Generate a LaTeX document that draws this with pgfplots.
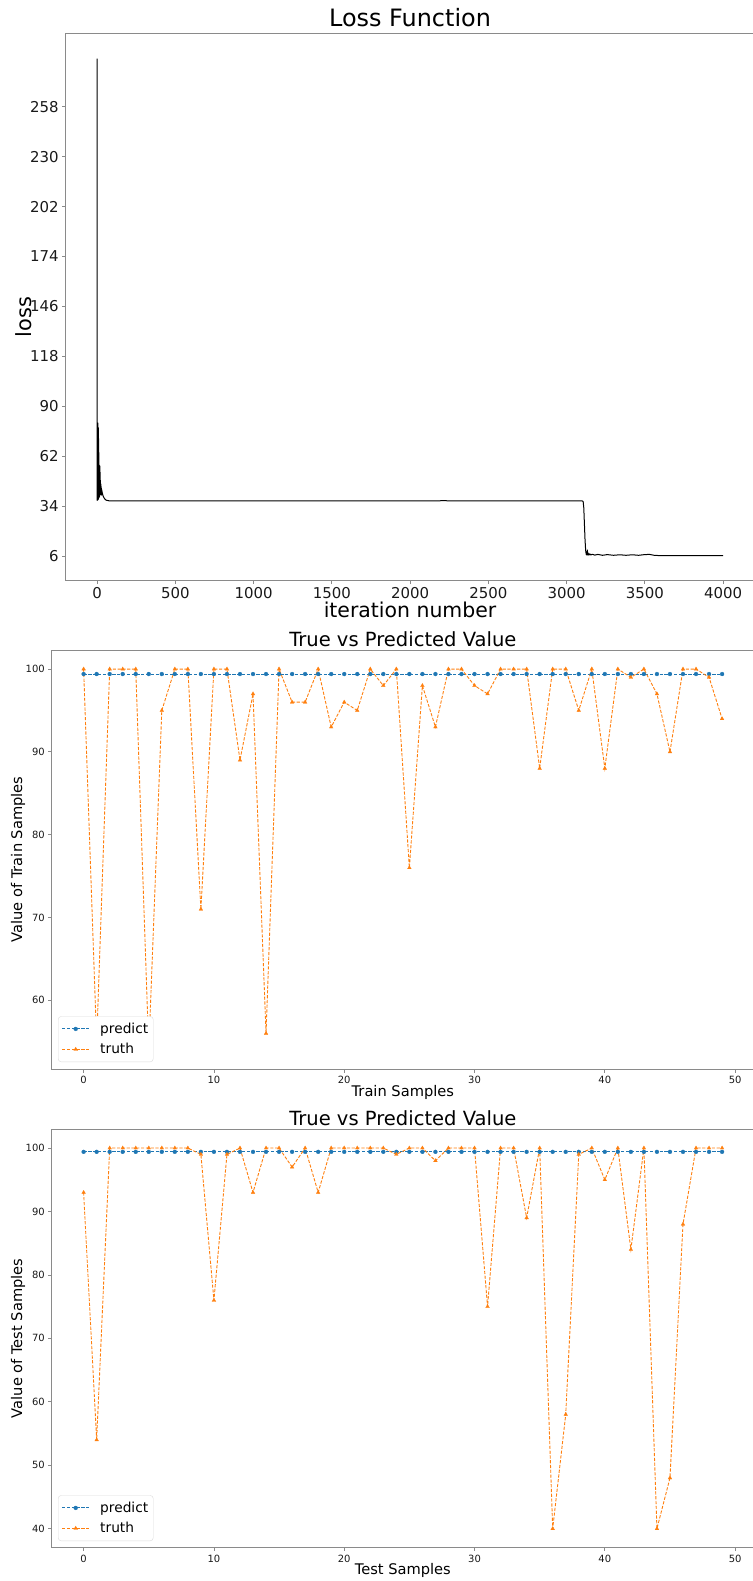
\documentclass[border=0pt]{standalone}
\usepackage{pgfplots}
\pgfplotsset{compat=1.18}
\usepackage{fontspec}
\setmainfont{DejaVu Sans}

\definecolor{mplblue}{HTML}{1F77B4}
\definecolor{mplorange}{HTML}{FF7F0E}
\definecolor{spine}{HTML}{8A8A8A}

% training loss per iteration
\pgfplotstableread{
it loss
0 285.0
1 37.2
2 38.0
3 37.4
4 52.0
5 70.0
6 80.6
7 37.6
8 78.0
9 38.0
10 72.0
11 38.4
12 64.0
13 38.8
14 57.0
15 39.2
16 49.0
17 39.6
18 56.5
19 40.0
20 53.0
21 40.4
22 48.5
23 40.6
24 46.5
25 40.6
26 45.0
27 40.4
28 44.0
29 40.2
30 43.2
32 42.2
34 41.4
36 40.6
38 40.0
40 39.5
44 38.8
48 38.2
52 37.8
56 37.5
60 37.3
70 37.1
80 36.9
500 36.9
1000 36.9
1500 36.9
1900 36.95
2000 36.9
2100 37.0
2180 36.9
2200 37.05
2300 36.9
2600 36.95
2900 36.9
3100 36.9
3106 36.6
3110 33.0
3114 24.0
3118 15.0
3122 9.0
3126 6.8
3130 6.6
3133 9.4
3135 6.6
3138 7.6
3142 6.5
3148 7.2
3155 6.6
3165 7.0
3180 6.5
3200 6.9
3230 6.4
3260 6.8
3300 6.4
3340 6.7
3380 6.4
3420 6.7
3460 6.4
3500 6.8
3530 6.9
3560 6.4
3600 6.2
4000 6.2
}\losstable

% train samples: model output and ground truth
\pgfplotstableread{
i predict truth
0 99.4 100
1 99.4 55
2 99.4 100
3 99.4 100
4 99.4 100
5 99.4 54
6 99.4 95
7 99.4 100
8 99.4 100
9 99.4 71
10 99.4 100
11 99.4 100
12 99.4 89
13 99.4 97
14 99.4 56
15 99.4 100
16 99.4 96
17 99.4 96
18 99.4 100
19 99.4 93
20 99.4 96
21 99.4 95
22 99.4 100
23 99.4 98
24 99.4 100
25 99.4 76
26 99.4 98
27 99.4 93
28 99.4 100
29 99.4 100
30 99.4 98
31 99.4 97
32 99.4 100
33 99.4 100
34 99.4 100
35 99.4 88
36 99.4 100
37 99.4 100
38 99.4 95
39 99.4 100
40 99.4 88
41 99.4 100
42 99.4 99
43 99.4 100
44 99.4 97
45 99.4 90
46 99.4 100
47 99.4 100
48 99.4 99
49 99.4 94
}\traintable

% test samples: model output and ground truth
\pgfplotstableread{
i predict truth
0 99.4 93
1 99.4 54
2 99.4 100
3 99.4 100
4 99.4 100
5 99.4 100
6 99.4 100
7 99.4 100
8 99.4 100
9 99.4 99
10 99.4 76
11 99.4 99
12 99.4 100
13 99.4 93
14 99.4 100
15 99.4 100
16 99.4 97
17 99.4 100
18 99.4 93
19 99.4 100
20 99.4 100
21 99.4 100
22 99.4 100
23 99.4 100
24 99.4 99
25 99.4 100
26 99.4 100
27 99.4 98
28 99.4 100
29 99.4 100
30 99.4 100
31 99.4 75
32 99.4 100
33 99.4 100
34 99.4 89
35 99.4 100
36 99.4 40
37 99.4 58
38 99.4 99
39 99.4 100
40 99.4 95
41 99.4 100
42 99.4 84
43 99.4 100
44 99.4 40
45 99.4 48
46 99.4 88
47 99.4 100
48 99.4 100
49 99.4 100
}\testtable

\pgfplotsset{
  base/.style={
    scale only axis,
    axis line style={spine, line width=0.8bp},
    tick pos=left,
    tick align=outside,
    major tick length=3.5bp,
    tick style={spine, line width=0.8bp},
    /pgf/number format/assume math mode=true,
    /pgf/number format/1000 sep={},
    scaled ticks=false,
    tick label style={black!90},
  },
  sample/.style={
    base,
    width=702.3bp, height=419bp,
    xmin=-2.45, xmax=51.45,
    xtick={0,10,20,30,40,50},
    tick label style={font=\fontsize{10}{12}\selectfont},
    label style={font=\fontsize{14.7}{17}\selectfont},
    title style={font=\fontsize{19.6}{23}\selectfont, at={(axis description cs:0.5,1.026)}, anchor=center, yshift=-6pt},
    xlabel style={at={(axis description cs:0.5,-0.055)}, anchor=center},
    ylabel style={at={(axis description cs:-0.048,0.5)}, anchor=center},
    legend style={
      anchor=south west, draw=black!14, rounded corners=3bp, fill=white,
      font=\fontsize{13.8}{16}\selectfont, inner xsep=3bp, inner ysep=4.5bp,
      row sep=4.5bp,
    },
    legend cell align=left,
    legend image code/.code={%
      \path[draw=none, fill=none] (-1bp,-1bp) rectangle (36bp,1bp);
      \draw[mark repeat=2,mark phase=2,#1] plot coordinates {(0bp,0bp) (13.5bp,0bp) (27bp,0bp)};},
  },
  predline/.style={mplblue, line width=0.9bp, dash pattern=on 3.2bp off 1.6bp, mark=*, mark size=2bp, mark options={solid, draw=mplblue, fill=mplblue, line width=0.2bp}},
  truthline/.style={mplorange, line width=0.9bp, dash pattern=on 3.2bp off 1.6bp, mark=triangle*, mark size=2.2bp, mark options={solid, draw=mplorange, fill=mplorange, line width=0.2bp}},
}

\begin{document}
\begin{tikzpicture}
\useasboundingbox (0,0) rectangle (753bp,-1581bp);

% loss curve
\begin{axis}[
  base,
  at={(65.7bp,-33.3bp)}, anchor=north west,
  width=688.7bp, height=547.4bp,
  xmin=-200, xmax=4200,
  ymin=-7.85, ymax=299.2,
  xtick={0,500,1000,1500,2000,2500,3000,3500,4000},
  ytick={6,34,62,90,118,146,174,202,230,258},
  tick label style={font=\fontsize{15}{18}\selectfont},
  title={Loss Function},
  title style={font=\fontsize{24}{28}\selectfont, at={(axis description cs:0.5,1.028)}, anchor=center, yshift=-6pt},
  xlabel={iteration number},
  xlabel style={font=\fontsize{20.5}{24}\selectfont, at={(axis description cs:0.5,-0.0535)}, anchor=center},
  ylabel={loss},
  ylabel style={font=\fontsize{21}{25}\selectfont, at={(axis description cs:-0.061,0.482)}, anchor=center},
]
\addplot[black, line width=1bp, line join=round] table[x=it, y=loss] {\losstable};
\end{axis}

% train samples
\begin{axis}[
  sample,
  at={(51.7bp,-650bp)}, anchor=north west,
  ymin=51.7, ymax=102.3,
  ytick={60,70,80,90,100},
  title={True vs Predicted Value},
  xlabel={Train Samples},
  ylabel={Value of Train Samples},
  legend style={at={(axis description cs:0.009,0.0167)}},
]
\addplot[predline] table[x=i, y=predict] {\traintable};
\addplot[truthline] table[x=i, y=truth] {\traintable};
\legend{predict, truth}
\end{axis}

% test samples
\begin{axis}[
  sample,
  at={(51.7bp,-1129bp)}, anchor=north west,
  height=418.7bp,
  ymin=37, ymax=103,
  ytick={40,50,60,70,80,90,100},
  title={True vs Predicted Value},
  xlabel={Test Samples},
  ylabel={Value of Test Samples},
  legend style={at={(axis description cs:0.009,0.016)}},
]
\addplot[predline] table[x=i, y=predict] {\testtable};
\addplot[truthline] table[x=i, y=truth] {\testtable};
\legend{predict, truth}
\end{axis}
\end{tikzpicture}
\end{document}
